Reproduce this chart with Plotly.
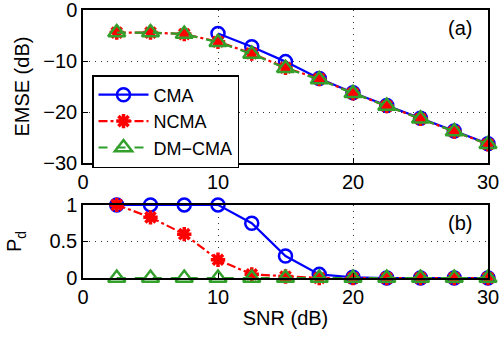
import plotly.graph_objects as go

snr = [2.5, 5, 7.5, 10, 12.5, 15, 17.5, 20, 22.5, 25, 27.5, 30]
emse_cma = [None, None, None, -4.6, -7.2, -10.1, -13.4, -16.2, -18.7, -21.2, -23.7, -26.2]
emse_ncma = [-4.4, -4.4, -4.7, -6.2, -8.5, -11.3, -13.5, -16.3, -18.8, -21.3, -23.8, -26.3]
emse_dm = [-4.4, -4.4, -4.7, -6.3, -8.6, -11.4, -13.6, -16.3, -18.8, -21.3, -23.8, -26.3]
pd_cma = [1, 1, 1, 1, 0.75, 0.3, 0.05, 0.01, 0, 0, 0, 0]
pd_ncma = [1, 0.83, 0.6, 0.25, 0.05, 0.02, 0, 0, 0, 0, 0, 0]
pd_dm = [0, 0, 0, 0, 0, 0, 0, 0, 0, 0, 0, 0]

FONT = "Liberation Sans, Arial, Helvetica, sans-serif"
FS = 20

styles = [
    ("CMA", "blue", "solid", dict(symbol="circle-open", size=13, color="blue", line=dict(width=2.5, color="blue"))),
    ("NCMA", "red", "dashdot", dict(symbol="asterisk-open", size=12, color="red", line=dict(width=3.5, color="red"))),
    ("DM\u2212CMA", "#2ca02c", "dash", dict(symbol="triangle-up-open", size=15, color="#33a02c", line=dict(width=2.5, color="#33a02c"))),
]

fig = go.Figure()
top = [emse_cma, emse_ncma, emse_dm]
bot = [pd_cma, pd_ncma, pd_dm]
for (name, col, dash, mk), yt, yb in zip(styles, top, bot):
    fig.add_trace(go.Scatter(x=snr, y=yt, name=name, mode="lines+markers",
                             line=dict(color=col, width=2.2, dash=dash), marker=mk,
                             xaxis="x", yaxis="y", showlegend=True, cliponaxis=False))
    fig.add_trace(go.Scatter(x=snr, y=yb, name=name, mode="lines+markers",
                             line=dict(color=col, width=2.2, dash=dash), marker=mk,
                             xaxis="x2", yaxis="y2", showlegend=False, cliponaxis=False))

ax_common = dict(showline=True, linecolor="black", linewidth=1.5, mirror=True,
                 ticks="inside", ticklen=5, tickcolor="black", tickwidth=1,
                 showgrid=True, gridcolor="#333333", griddash="1px,5px", gridwidth=1,
                 zeroline=False, automargin=False, ticklabeloverflow="allow",
                 tickfont=dict(family=FONT, size=FS, color="black"))

fig.update_layout(
    width=500, height=337,
    margin=dict(l=0, r=0, t=0, b=0, autoexpand=False),
    paper_bgcolor="white", plot_bgcolor="white",
    font=dict(family=FONT, size=FS, color="black"),
    xaxis=dict(domain=[0.166, 0.976], range=[0, 30], tickvals=[0, 10, 20, 30],
               anchor="y", **ax_common),
    yaxis=dict(domain=[0.516, 0.970], range=[-30, 0], tickvals=[-30, -20, -10, 0],
               ticktext=["\u221230", "\u221220", "\u221210", "0"], anchor="x",
               title=dict(text="EMSE (dB)", font=dict(family=FONT, size=FS), standoff=8),
               **ax_common),
    xaxis2=dict(domain=[0.166, 0.976], range=[0, 30], tickvals=[0, 10, 20, 30],
                anchor="y2", title=dict(text="SNR (dB)", font=dict(family=FONT, size=FS), standoff=4),
                **ax_common),
    yaxis2=dict(domain=[0.175, 0.392], range=[0, 1], tickvals=[0, 0.5, 1],
                ticktext=["0", "0.5", "1"], anchor="x2",
                title=dict(text="P<sub>d</sub>", font=dict(family=FONT, size=FS), standoff=22),
                **ax_common),
    legend=dict(x=0.184, y=1 - 75 / 337, xanchor="left", yanchor="top",
                bgcolor="white", bordercolor="black", borderwidth=1.5,
                font=dict(family=FONT, size=18), tracegroupgap=0, itemwidth=50),
    annotations=[
        dict(text="(a)", x=0.92, y=1 - 28 / 337, xref="paper", yref="paper", showarrow=False,
             xanchor="center", yanchor="middle", font=dict(family=FONT, size=FS)),
        dict(text="(b)", x=0.92, y=1 - 223 / 337, xref="paper", yref="paper", showarrow=False,
             xanchor="center", yanchor="middle", font=dict(family=FONT, size=FS)),
    ],
)

fig.write_html("out.html")
